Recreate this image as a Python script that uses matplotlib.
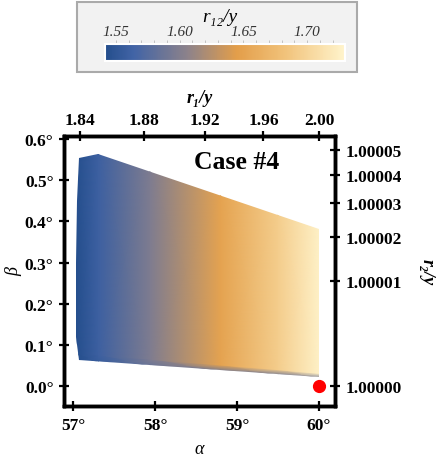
import numpy as np
import matplotlib
matplotlib.use('Agg')
import matplotlib.pyplot as plt
from matplotlib.colors import LinearSegmentedColormap, Normalize
from matplotlib.patches import Polygon, Rectangle
import matplotlib.cm as cm

# feasible region outline (alpha in deg, beta in deg)
poly_alpha = [57.073, 57.31, 60.0, 60.0, 57.073, 57.037, 57.037, 57.045]
poly_beta = [0.553, 0.562, 0.382, 0.022, 0.064, 0.119, 0.30, 0.45]

# colour field r12/y sampled along alpha, at bottom edge / just above / top
grid_alpha = [57.03, 57.31, 57.94, 58.8, 59.5, 60.05]
grid_beta_bot = [0.062, 0.058, 0.049, 0.037, 0.027, 0.018]
grid_beta_top = [0.556, 0.565, 0.523, 0.465, 0.418, 0.384]
r12_edge = [1.542, 1.556, 1.585, 1.590, 1.590, 1.595]
r12_main = [1.541, 1.560, 1.598, 1.650, 1.693, 1.730]

# solution marker
sol_alpha, sol_beta = 60.0, 0.0

xticks = [57, 58, 59, 60]
yticks = [0.0, 0.1, 0.2, 0.3, 0.4, 0.5, 0.6]
r1_ticks = [1.84, 1.88, 1.92, 1.96, 2.00]
r2_ticks = [1.00000, 1.00001, 1.00002, 1.00003, 1.00004, 1.00005]
cb_ticks = [1.55, 1.60, 1.65, 1.70]
cb_min, cb_max = 1.5414, 1.7298

cmap = LinearSegmentedColormap.from_list('r12', [
    (0.0, '#244e8c'), (0.12, '#4264a6'), (0.35, '#8f8389'),
    (0.55, '#e39e4a'), (0.75, '#f1c27a'), (1.0, '#fff4cc')])
norm = Normalize(cb_min, cb_max)

serif = ['Liberation Serif', 'DejaVu Serif']
plt.rcParams['font.family'] = serif

fig = plt.figure(figsize=(4.36, 4.60), dpi=100)

# colorbar box
box = Rectangle((0.177, 0.841), 0.642, 0.152, transform=fig.transFigure,
                facecolor='#f2f2f2', edgecolor='#aaaaaa', lw=1.5, zorder=-5)
fig.add_artist(box)
cax = fig.add_axes([0.2408, 0.8652, 0.5505, 0.037], zorder=5)
cb = fig.colorbar(cm.ScalarMappable(norm=norm, cmap=cmap), cax=cax, orientation='horizontal')
cb.outline.set_edgecolor('white')
cb.outline.set_linewidth(1.5)
cax.xaxis.set_ticks_position('top')
cb.set_ticks(cb_ticks)
cax.set_xticklabels(['%.2f' % t for t in cb_ticks], fontstyle='italic', fontsize=11, color='#333333')
cax.set_xticks(np.arange(1.55, 1.73, 0.01), minor=True)
cax.tick_params(axis='x', which='both', direction='out', color='#bbbbbb', length=3, width=0.6, pad=1)
fig.text(0.505, 1 - 17 / 460, 'r₁₂/y', fontstyle='italic', fontsize=14, ha='center', va='center')

ax = fig.add_axes([0.1468, 0.1146, 0.6216, 0.5882])
X = np.array([grid_alpha, grid_alpha, grid_alpha])
bot = np.array(grid_beta_bot)
top = np.array(grid_beta_top)
Y = np.array([bot, bot + 0.035 * (top - bot), top])
C = np.array([r12_edge, r12_main, r12_main])
mesh = ax.pcolormesh(X, Y, C, shading='gouraud', cmap=cmap, norm=norm, zorder=1)
clip = Polygon(np.column_stack([poly_alpha, poly_beta]), closed=True, transform=ax.transData,
               facecolor='none', edgecolor='none')
ax.add_patch(clip)
mesh.set_clip_path(clip)

ax.plot([sol_alpha], [sol_beta], 'o', color='red', markersize=8.5, clip_on=False, zorder=5)
ax.text(58.99, 0.545, 'Case #4', fontsize=18.5, fontweight='bold', ha='center', va='center')

ax.set_xlim(56.89, 60.195)
ax.set_ylim(-0.048, 0.607)
ax.set_xticks(xticks)
ax.set_xticklabels(['%d°' % t for t in xticks])
ax.set_yticks(yticks)
ax.set_yticklabels(['%.1f°' % t for t in yticks])

ax2 = ax.twinx()
ax2.set_ylim(ax.get_ylim())
ax2.set_yticks(np.degrees(np.arccos(1 / np.array(r2_ticks))))
ax2.set_yticklabels(['%.5f' % t for t in r2_ticks])

ax3 = ax.twiny()
ax3.set_xlim(ax.get_xlim())
ax3.set_xticks(np.degrees(np.arccos(1 / np.array(r1_ticks))))
ax3.set_xticklabels(['%.2f' % t for t in r1_ticks])

for a in (ax, ax2, ax3):
    for s in a.spines.values():
        s.set_linewidth(2.4)
    a.tick_params(which='major', direction='inout', length=7, width=1.6, labelsize=12.5, pad=4)
    for lab in a.get_xticklabels() + a.get_yticklabels():
        lab.set_fontweight('bold')
ax3.tick_params(pad=2)

ax.set_xlabel('α', fontstyle='italic', fontsize=13, labelpad=5)
ax.set_ylabel('β', fontstyle='italic', fontsize=13)
ax.yaxis.set_label_coords(-0.155, 0.5)
ax3.set_xlabel('r₁/y', fontstyle='italic', fontweight='bold', fontsize=13, labelpad=7)
ax2.set_ylabel('r₂/y', fontstyle='italic', fontweight='bold', fontsize=13, labelpad=12, rotation=270, va='bottom')

fig.savefig('out.png', dpi=100)
